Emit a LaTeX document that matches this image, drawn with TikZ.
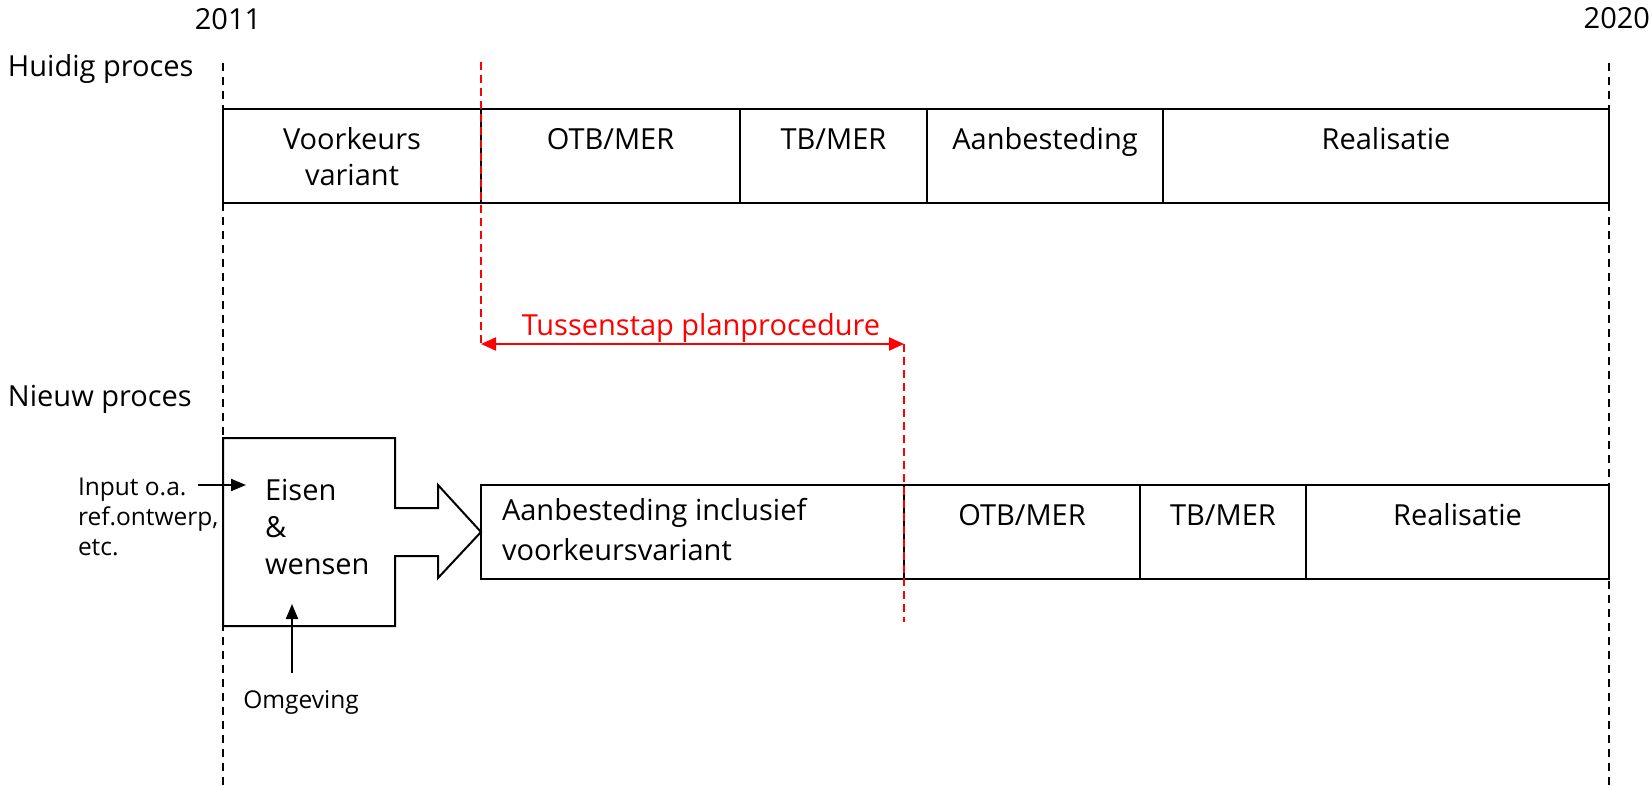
\documentclass[tikz,border=0pt]{standalone}
\usepackage{fontspec}
\setmainfont{Open Sans}
\usetikzlibrary{arrows.meta}
\definecolor{rd}{RGB}{255,0,0}
\tikzset{
  every node/.style={inner sep=0pt, outer sep=0pt},
  big/.style={font=\fontsize{29}{36}\selectfont},
  small/.style={font=\fontsize{24.5}{30}\selectfont},
  phase/.style={draw, line width=2pt},
  timeline/.style={draw, line width=1.6pt, dash pattern=on 8pt off 6pt},
  redline/.style={draw=rd, line width=1.6pt, dash pattern=on 8pt off 5pt},
  redarrow/.style={draw=rd, line width=2pt, {Triangle[length=15pt,width=13pt]}-{Triangle[length=15pt,width=13pt]}},
  inarrow/.style={draw, line width=2pt, -{Triangle[length=15pt,width=12pt]}},
}
\newcommand{\stk}[2][c]{\begin{tabular}[t]{@{}#1@{}}#2\end{tabular}}
\begin{document}
\begin{tikzpicture}[x=1pt,y=-1pt]
\useasboundingbox (0,0) rectangle (1652,786);
% labels
\node[big, anchor=base] (y2011) at (228,30) {2011};
\node[big, anchor=base east] (y2020) at (1650,29) {2020};
\node[big, anchor=base west] (huidig) at (8,77) {Huidig proces};
\node[big, anchor=base west] (nieuw) at (8,406) {Nieuw proces};
% timelines
\coordinate (t1a) at (223,63); \coordinate (t1b) at (223,786);
\coordinate (t2a) at (1609,63); \coordinate (t2b) at (1609,786);
\draw[timeline] (t1a) -- (t1b);
\draw[timeline] (t2a) -- (t2b);
% current process row
\foreach \n/\xa/\xb in {h1/223/481, h2/481/740, h3/740/927, h4/927/1163, h5/1163/1609}{
  \node[phase, minimum width={\xb-\xa}, minimum height=94, anchor=north west] (\n) at (\xa,109) {};
}
\node[big, anchor=base] at ([yshift=-41pt]h1.north) {\stk{Voorkeurs\\variant}};
\node[big, anchor=base] at ([yshift=-41pt]h2.north) {OTB/MER};
\node[big, anchor=base] at ([yshift=-41pt]h3.north) {TB/MER};
\node[big, anchor=base] at ([yshift=-41pt]h4.north) {Aanbesteding};
\node[big, anchor=base] at ([yshift=-41pt]h5.north) {Realisatie};
% new process row
\foreach \n/\xa/\xb in {n1/481/904, n2/904/1140, n3/1140/1306, n4/1306/1609}{
  \node[phase, minimum width={\xb-\xa}, minimum height=94, anchor=north west] (\n) at (\xa,485) {};
}
\node[big, anchor=base west, font=\fontsize{29}{40}\selectfont] at ([xshift=21pt,yshift=-35pt]n1.north west) {\stk[l]{Aanbesteding inclusief\\voorkeursvariant}};
\node[big, anchor=base] at ([yshift=-40pt]n2.north) {OTB/MER};
\node[big, anchor=base] at ([yshift=-40pt]n3.north) {TB/MER};
\node[big, anchor=base] at ([yshift=-40pt]n4.north) {Realisatie};
% red markers
\coordinate (r1a) at (481,62); \coordinate (r1b) at (481,344);
\coordinate (r2a) at (904,344); \coordinate (r2b) at (904,622);
\draw[redline] (r1a) -- (r1b);
\draw[redline] (r2a) -- (r2b);
\draw[redarrow] (r1b) -- (r2a);
\node[big, anchor=base, text=rd] (tuss) at (701,335) {Tussenstap planprocedure};
% big arrow block
\draw[phase] (223,438) -- (395,438) -- (395,508) -- (438,508) -- (438,485)
  -- (n1.west) -- (438,578) -- (438,556) -- (395,556) -- (395,626) -- (223,626) -- cycle;
\node[big, anchor=base west, font=\fontsize{29}{37}\selectfont] (eisen) at (265,500) {\stk[l]{Eisen\\\&\\wensen}};
% inputs
\node[small, anchor=base west] (input) at (78,495) {\stk[l]{Input o.a.\\ref.ontwerp,\\etc.}};
\coordinate (ia) at (198,485); \coordinate (ib) at (246,485);
\draw[inarrow] (ia) -- (ib);
\node[small, anchor=base] (omg) at (301,708) {Omgeving};
\coordinate (oa) at (292,673); \coordinate (ob) at (292,604);
\draw[inarrow] (oa) -- (ob);
\end{tikzpicture}
\end{document}
